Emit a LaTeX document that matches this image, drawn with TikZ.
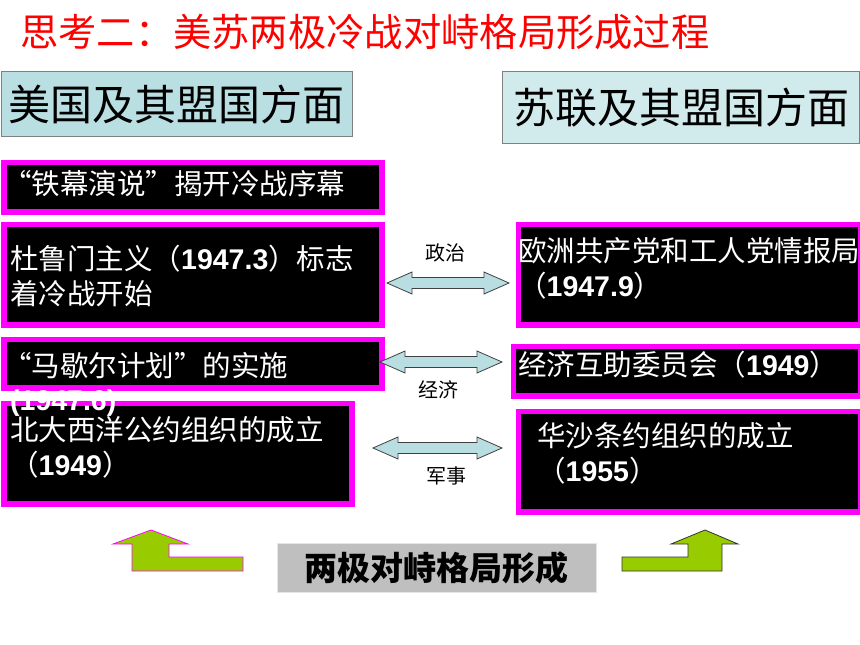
\documentclass[tikz,border=0pt]{standalone}
\usepackage{fontspec}
\setmainfont{Liberation Sans}
\newfontfamily\cjk{Noto Sans CJK SC}
\usetikzlibrary{positioning}

\definecolor{hotpink}{RGB}{255,0,255}
\definecolor{tealA}{RGB}{185,223,227}
\definecolor{tealB}{RGB}{209,234,236}
\definecolor{arrowblue}{RGB}{185,222,225}
\definecolor{leafgreen}{RGB}{153,204,0}

\newcommand{\yr}[1]{{\rmfamily\bfseries #1}}
\newcommand{\fs}[1]{\fontsize{#1}{#1}\selectfont}
% block arrow pointing both ways: left x, right x, middle y
\newcommand{\dualarrow}[3]{%
  \draw[twoway] (#1,#3) -- ++(25,-11) -- ++(0,5.5) -- ({#2-25},{#3-5.5}) -- ++(0,-5.5)
    -- (#2,#3) -- ++(-25,11) -- ++(0,-5.5) -- ({#1+25},{#3+5.5}) -- ++(0,5.5) -- cycle;}

\tikzset{
  pinkbox/.style={draw=hotpink, line width=5.5pt, fill=black, anchor=north west, inner sep=0pt},
  headbox/.style={draw=gray, line width=1pt, anchor=north west, inner sep=0pt, font={\cjk\fs{42}}},
  boxtext/.style={anchor=west, inner sep=0pt, text=white, align=left, font={\cjk\fontsize{28.5}{35}\selectfont}},
  armlabel/.style={inner sep=0pt, font={\cjk\fs{20}}},
  twoway/.style={fill=arrowblue, draw=black!75, line width=0.8pt},
  liftarrow/.style={fill=leafgreen, line width=0.8pt},
}

\begin{document}
\begin{tikzpicture}[x=1pt,y=-1pt]
    \useasboundingbox (0,0) rectangle (860,645);

    % Title
    \node[anchor=west, inner sep=0pt, text=red, font={\cjk\fs{38.3}}] (title) at (20,32) {思考二：美苏两极冷战对峙格局形成过程};

    % Headers for the two sides
    \node[headbox, fill=tealA, minimum width=351pt, minimum height=65pt] (usa) at (0.5,71) {美国及其盟国方面};
    \node[headbox, fill=tealB, minimum width=357pt, minimum height=72pt] (ussr) at (502,71) {苏联及其盟国方面};

    % Black boxes
    \node[pinkbox, minimum width=378pt, minimum height=49.5pt] (iron) at (1.25,159.75) {};
    \node[pinkbox, minimum width=378pt, minimum height=100.5pt] (truman) at (1.25,221.75) {};
    \node[pinkbox, minimum width=378pt, minimum height=48.5pt] (marshall) at (1.25,336.75) {};
    \node[pinkbox, minimum width=348pt, minimum height=100.5pt] (nato) at (1.25,400.75) {};
    \node[pinkbox, minimum width=342pt, minimum height=100.5pt] (cominform) at (515.75,221.75) {};
    \node[pinkbox, minimum width=347pt, minimum height=49.5pt] (comecon) at (510.75,343.75) {};
    \node[pinkbox, minimum width=342pt, minimum height=100.5pt] (warsaw) at (515.75,408.75) {};

    % Texts in the boxes
    \node[boxtext] (ironT) at (3,184) {“铁幕演说”揭开冷战序幕};
    \node[boxtext] (trumanT) at (10,275.5) {杜鲁门主义（\yr{1947.3}）标志\\着冷战开始};
    \node[boxtext] (marshallT) at (3,366) {“马歇尔计划”的实施};
    \node[boxtext] (marshallY) at (10,403) {\yr{(1947.6)}};
    \node[boxtext] (natoT) at (10,447.5) {北大西洋公约组织的成立\\（\yr{1949}）};
    \node[boxtext] (cominformT) at (518,268.5) {欧洲共产党和工人党情报局\\（\yr{1947.9}）};
    \node[boxtext] (comeconT) at (518,365) {经济互助委员会（\yr{1949}）};
    \node[boxtext] (warsawT) at (537,453.5) {华沙条约组织的成立\\（\yr{1955}）};

    % Arrows between the sides
    \dualarrow{387}{509}{283}
    \dualarrow{380}{502}{362}
    \dualarrow{373}{502}{448}
    \node[armlabel] (politics) at (445,253) {政治};
    \node[armlabel] (economy) at (438,390) {经济};
    \node[armlabel] (military) at (446,476) {军事};

    % Result
    \node[fill=black!25, draw=black!10, anchor=north west, inner sep=0pt, minimum width=319pt, minimum height=49pt,
          font={\cjk\bfseries\fs{33}}] (bipolar) at (277,543) {两极对峙格局形成};
    \draw[liftarrow, draw=hotpink] (151,530) -- (188,544) -- (169,544) -- (169,557) -- (243,557)
        -- (243,571) -- (132,571) -- (132,544) -- (113,544) -- cycle;
    \draw[liftarrow, draw=black!80] (705,530) -- (738,544) -- (722,544) -- (722,571) -- (622,571)
        -- (622,557) -- (688,557) -- (688,544) -- (671,544) -- cycle;
\end{tikzpicture}
\end{document}
